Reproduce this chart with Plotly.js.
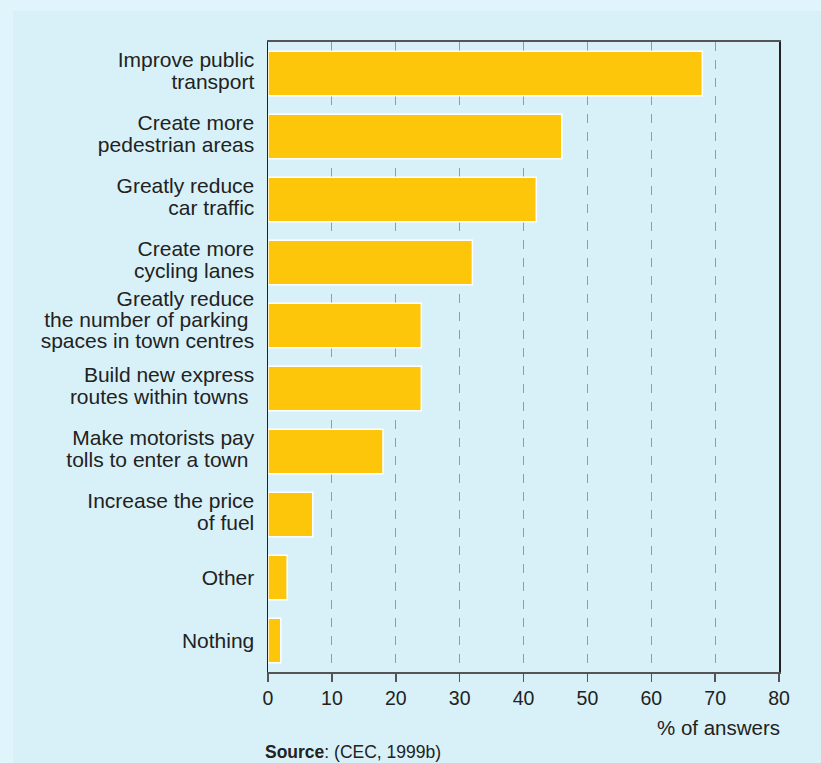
<!DOCTYPE html>
<html>
<head>
<meta charset="utf-8">
<script src="https://cdn.plot.ly/plotly-3.0.1.min.js"></script>
<style>
html,body{margin:0;padding:0;background:#e0f4fc;}
#chart{width:821px;height:763px;}
</style>
</head>
<body>
<div id="chart"></div>
<script>
const categories = [
  "Improve public<br>transport",
  "Create more<br>pedestrian areas",
  "Greatly reduce<br>car traffic",
  "Create more<br>cycling lanes",
  "Greatly reduce<br>the number of parking\u00a0<br>spaces in town centres",
  "Build new express<br>routes within towns\u00a0",
  "Make motorists pay<br>tolls to enter a town\u00a0",
  "Increase the price<br>of fuel",
  "Other",
  "Nothing"
];
const values = [68, 46, 42, 32, 24, 24, 18, 7, 3, 2];
const xTicks = [0, 10, 20, 30, 40, 50, 60, 70, 80];

const font = "Liberation Sans, Arial, Helvetica, sans-serif";

const trace = {
  type: "bar",
  orientation: "h",
  y: categories,
  x: values,
  marker: {color: "#fdc60a", line: {color: "#ffffff", width: 1.5}},
  hoverinfo: "x+y"
};

const layout = {
  width: 821,
  height: 763,
  paper_bgcolor: "#e0f4fc",
  plot_bgcolor: "rgba(0,0,0,0)",
  margin: {l: 268, r: 42, t: 42, b: 91, pad: 0},
  bargap: 0.29,
  showlegend: false,
  font: {family: font, color: "#222222", size: 20},
  xaxis: {
    range: [0, 80],
    tickvals: xTicks,
    ticktext: xTicks.map(String),
    ticks: "outside",
    ticklen: 8,
    tickwidth: 1.5,
    tickcolor: "#555555",
    showline: true,
    linecolor: "#555555",
    linewidth: 2,
    mirror: true,
    showgrid: true,
    gridcolor: "#9a9a9a",
    gridwidth: 1,
    griddash: "dash",
    zeroline: false,
    tickfont: {size: 19.5, color: "#222222", family: font},
    fixedrange: true
  },
  yaxis: {
    autorange: "reversed",
    showline: true,
    linecolor: "#222222",
    linewidth: 1.5,
    mirror: true,
    ticks: "",
    ticklabelstandoff: 8,
    tickfont: {size: 21, color: "#222222", family: font},
    showgrid: false,
    zeroline: false,
    fixedrange: true
  },
  shapes: [
    {type: "rect", xref: "paper", yref: "paper", layer: "below",
     x0: -268/511 + 13/511, x1: 1 + 42/511 + 0.01, y0: -91/630 - 0.01, y1: 1 + 31/630,
     fillcolor: "#d8f1f8", line: {width: 0}}
  ],
  annotations: [
    {xref: "paper", yref: "paper", x: 1.005, y: -91/630 + 36/630, xanchor: "right", yanchor: "middle",
     text: "% of answers", showarrow: false, font: {size: 20.5, color: "#222222", family: font}},
    {xref: "paper", yref: "paper", x: -5/511, y: -91/630 + 11/630, xanchor: "left", yanchor: "middle",
     text: "<b>Source</b>: (CEC, 1999b)", showarrow: false, font: {size: 17.5, color: "#222222", family: font}}
  ]
};

const gd = document.getElementById("chart");
Plotly.newPlot(gd, [trace], layout, {displayModeBar: false, staticPlot: true}).then(function () {
  const f = 1.02 / 1.3;
  gd.querySelectorAll(".ytick text").forEach(function (t) {
    const lines = t.querySelectorAll("tspan.line");
    if (lines.length < 2) return;
    const b0 = t.getBBox();
    const c0 = b0.y + b0.height / 2;
    lines.forEach(function (s) {
      const dy = s.getAttribute("dy");
      if (dy && /em$/.test(dy)) s.setAttribute("dy", (parseFloat(dy) * f) + "em");
    });
    const b1 = t.getBBox();
    const c1 = b1.y + b1.height / 2;
    const y = parseFloat(t.getAttribute("y") || 0);
    t.setAttribute("y", y + (c0 - c1));
  });
});
</script>
</body>
</html>
